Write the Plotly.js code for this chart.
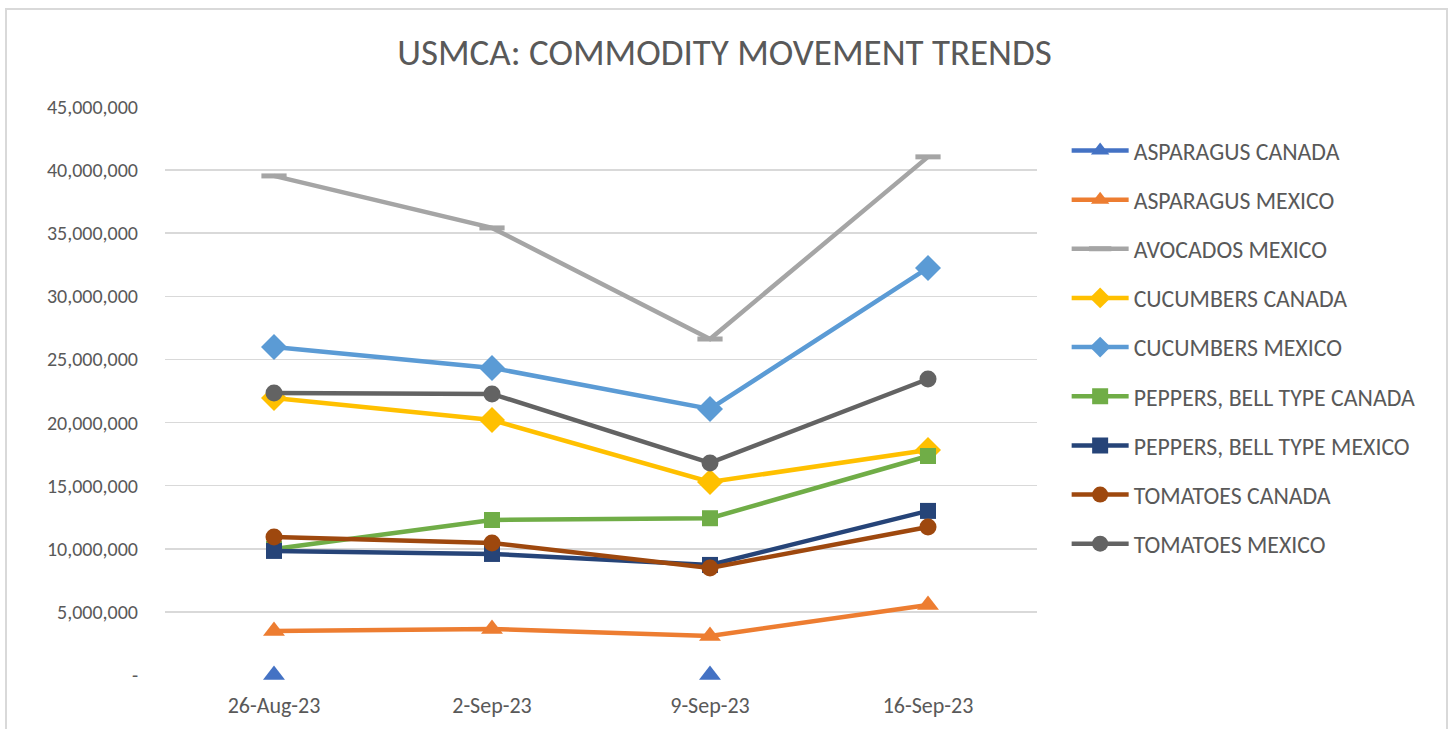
<!DOCTYPE html>
<html>
<head>
<meta charset="utf-8">
<script src="https://cdn.plot.ly/plotly-3.0.1.min.js"></script>
<style>
html,body{margin:0;padding:0;background:#fff;overflow:hidden;}
#chart{width:1449px;height:729px;}
#frame{position:absolute;left:5px;top:8px;width:1439px;height:740px;border:2px solid #d9d9d9;pointer-events:none;}
</style>
</head>
<body>
<div id="chart"></div>
<div id="frame"></div>
<script>
const categories = ["26-Aug-23", "2-Sep-23", "9-Sep-23", "16-Sep-23"];
const seriesNames = ["ASPARAGUS CANADA","ASPARAGUS MEXICO","AVOCADOS MEXICO","CUCUMBERS CANADA","CUCUMBERS MEXICO","PEPPERS, BELL TYPE CANADA","PEPPERS, BELL TYPE MEXICO","TOMATOES CANADA","TOMATOES MEXICO"];
const asparagusCanada = [0, null, 0, null];
const asparagusMexico = [3490000, 3650000, 3090000, 5550000];
const avocadosMexico = [39540000, 35420000, 26620000, 41050000];
const cucumbersCanada = [21950000, 20200000, 15290000, 17830000];
const cucumbersMexico = [25990000, 24330000, 21080000, 32250000];
const peppersCanada = [9980000, 12280000, 12420000, 17350000];
const peppersMexico = [9830000, 9590000, 8720000, 13000000];
const tomatoesCanada = [10940000, 10460000, 8480000, 11730000];
const tomatoesMexico = [22350000, 22270000, 16800000, 23450000];
const yTickVals = [0,5000000,10000000,15000000,20000000,25000000,30000000,35000000,40000000,45000000];
const yTickText = ["-","5,000,000","10,000,000","15,000,000","20,000,000","25,000,000","30,000,000","35,000,000","40,000,000","45,000,000"];

const values = [asparagusCanada, asparagusMexico, avocadosMexico, cucumbersCanada, cucumbersMexico, peppersCanada, peppersMexico, tomatoesCanada, tomatoesMexico];
const colors = ["#4472C4","#ED7D31","#A5A5A5","#FFC000","#5B9BD5","#70AD47","#264478","#9E480E","#636363"];
const symbols = ["triangle-up","triangle-up","line-ew","diamond","diamond","square","square","circle","circle"];
const sizes = [19,19,18,20,20,16,16,17,17];

const traces = values.map((v,i)=>({
  x: categories, y: v, name: seriesNames[i], type:'scatter', mode:'lines+markers',
  legendgroup: 'g'+i,
  connectgaps:false, cliponaxis:false,
  line:{color:colors[i], width:4.5},
  marker:{symbol:symbols[i], size:sizes[i], color:colors[i],
    line: symbols[i]==='line-ew' ? {color:colors[i], width:5} : {width:0}}
}));

const font = "Carlito, Calibri, Lato, 'Open Sans', sans-serif";
const layout = {
  width:1449, height:729,
  margin:{l:165, r:412, t:107, b:54},
  paper_bgcolor:'#fff', plot_bgcolor:'#fff',
  font:{family:font, color:'#595959', size:18},
  title:{text:'USMCA: COMMODITY MOVEMENT TRENDS', x:0.5, xanchor:'center', y:0.928, yanchor:'middle', font:{family:font, size:37, color:'#595959'}},
  xaxis:{type:'category', range:[-0.5,3.5], showgrid:false, zeroline:false, showline:false, ticks:'', tickfont:{size:22, color:'#595959'}, ticklabelstandoff:15},
  yaxis:{range:[0,45000000], tickvals:yTickVals, ticktext:yTickText, showgrid:true, gridcolor:'#d9d9d9', gridwidth:1.5, zeroline:false, showline:false, ticks:'', tickfont:{size:20, color:'#595959'}, ticklabelstandoff:26},
  legend:{x:1.034, xanchor:'left', y:0.962, yanchor:'top', traceorder:'grouped', tracegroupgap:15.2, itemwidth:57, font:{size:23.8, color:'#595959'}, bgcolor:'rgba(0,0,0,0)'},
  showlegend:true
};
Plotly.newPlot('chart', traces, layout, {displayModeBar:false, staticPlot:true});
</script>
</body>
</html>
